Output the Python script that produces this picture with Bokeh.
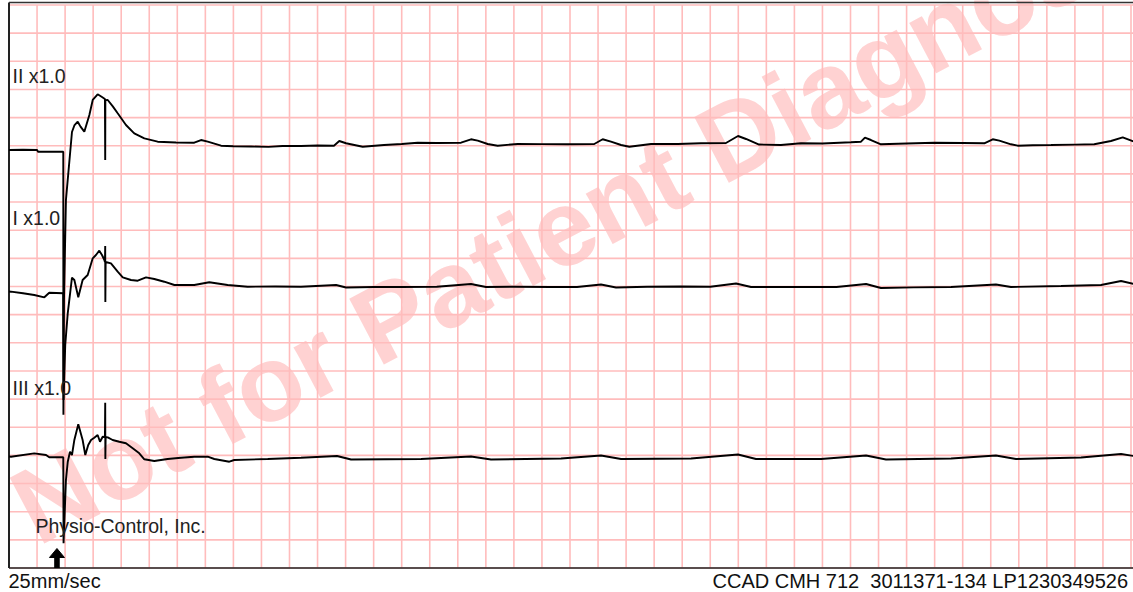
from bokeh.plotting import figure
from bokeh.models import Range1d
from bokeh.core.properties import value
from bokeh.embed import file_html
from bokeh.resources import INLINE

# ---------------- data (time in s, amplitude in mV relative to lead baseline) ----------------
lead_names = ["II x1.0", "I x1.0", "III x1.0"]
lead_offsets = [7.5, 5.0, 2.0]

lead_II_t = [0.0, 0.10, 0.20, 0.207, 0.30, 0.387, 0.388, 0.392, 0.406, 0.449, 0.466, 0.490, 0.510,
             0.537, 0.573, 0.597, 0.632, 0.663, 0.684, 0.686, 0.687, 0.704, 0.740, 0.775, 0.834,
             0.893, 0.965, 1.060, 1.191, 1.321, 1.369, 1.417, 1.512, 1.60, 1.726, 1.85, 1.95,
             2.082, 2.20, 2.317, 2.355, 2.403, 2.522, 2.674, 2.80, 2.914, 3.05, 3.223, 3.294,
             3.342, 3.413, 3.484, 3.627, 3.80, 3.984, 4.173, 4.233, 4.292, 4.364, 4.423, 4.578,
             4.768, 4.934, 5.112, 5.198, 5.255, 5.348, 5.504, 5.647, 5.80, 6.003, 6.075, 6.103,
             6.146, 6.217, 6.40, 6.598, 6.80, 6.954, 7.014, 7.061, 7.144, 7.192, 7.30, 7.430,
             7.60, 7.738, 7.857, 7.941, 8.021]
lead_II_mv = [-0.075, -0.072, -0.075, -0.106, -0.104, -0.106, -4.78, -2.74, -0.96, 0.244, 0.36,
              0.427, 0.34, 0.25, 0.546, 0.813, 0.914, 0.866, 0.83, -0.253, 0.81, 0.813, 0.70,
              0.576, 0.369, 0.221, 0.132, 0.072, 0.058, 0.054, 0.102, 0.072, 0.001, -0.01, -0.013,
              -0.02, -0.005, -0.004, 0.005, 0.001, 0.084, 0.044, -0.017, 0.013, 0.03, 0.054, 0.05,
              0.054, 0.115, 0.09, 0.031, 0.001, 0.031, 0.028, 0.026, 0.031, 0.115, 0.072, 0.013,
              -0.017, 0.031, 0.031, 0.044, 0.049, 0.173, 0.12, 0.022, 0.013, 0.044, 0.04, 0.061,
              0.072, 0.143, 0.102, 0.026, 0.04, 0.054, 0.05, 0.044, 0.115, 0.09, 0.026, 0.001,
              0.01, 0.013, 0.02, 0.026, 0.084, 0.150, 0.072]

lead_I_t = [0.0, 0.014, 0.10, 0.180, 0.252, 0.287, 0.387, 0.389, 0.401, 0.419, 0.449, 0.466, 0.494,
            0.525, 0.561, 0.597, 0.620, 0.644, 0.663, 0.680, 0.684, 0.686, 0.687, 0.689, 0.727,
            0.775, 0.811, 0.870, 0.918, 0.977, 1.036, 1.107, 1.179, 1.321, 1.428, 1.559, 1.702,
            1.90, 2.082, 2.332, 2.403, 2.60, 2.795, 3.05, 3.294, 3.401, 3.60, 3.865, 4.05, 4.221,
            4.328, 4.55, 4.791, 5.00, 5.184, 5.291, 5.647, 5.90, 6.111, 6.217, 6.45, 6.717, 7.037,
            7.144, 7.501, 7.786, 7.929, 8.021]
lead_I_mv = [-0.09, -0.092, -0.12, -0.151, -0.192, -0.110, -0.121, -2.016, -1.039, -0.471, 0.156,
             0.115, -0.192, 0.115, 0.204, 0.501, 0.560, 0.636, 0.560, 0.471, 0.435, 0.719, -0.275,
             0.435, 0.412, 0.263, 0.163, 0.115, 0.103, 0.163, 0.133, 0.085, 0.027, 0.027, 0.075,
             0.027, -0.004, 0.0, -0.004, 0.027, -0.018, -0.01, -0.009, -0.005, 0.044, -0.009,
             -0.004, -0.009, -0.01, 0.036, -0.018, -0.005, 0.0, -0.005, 0.053, -0.009, -0.009,
             -0.01, 0.044, -0.027, -0.015, -0.009, 0.036, -0.009, 0.009, 0.027, 0.098, 0.044]

lead_III_t = [0.0, 0.014, 0.180, 0.264, 0.287, 0.387, 0.389, 0.406, 0.419, 0.435, 0.449, 0.466,
              0.494, 0.525, 0.544, 0.565, 0.585, 0.608, 0.632, 0.649, 0.668, 0.684, 0.686, 0.687,
              0.689, 0.704, 0.739, 0.786, 0.834, 0.882, 0.929, 0.965, 1.036, 1.131, 1.226, 1.321,
              1.417, 1.464, 1.571, 1.606, 1.845, 2.082, 2.339, 2.439, 2.938, 3.294, 3.437, 3.936,
              4.221, 4.364, 4.863, 5.198, 5.326, 5.790, 6.111, 6.253, 6.717, 7.037, 7.180, 7.644,
              7.929, 8.021]
lead_III_mv = [-0.02, -0.023, 0.037, 0.007, -0.034, -0.034, -1.561, -0.437, -0.112, 0.066, 0.007,
               0.274, 0.552, 0.274, 0.007, 0.185, 0.274, 0.314, 0.362, 0.243, 0.332, 0.327, 0.936,
               -0.064, 0.327, 0.321, 0.274, 0.243, 0.215, 0.126, 0.037, -0.069, -0.099, -0.064,
               -0.041, -0.023, -0.023, -0.064, -0.112, -0.082, -0.064, -0.041, -0.011, -0.073,
               -0.064, -0.02, -0.073, -0.055, -0.002, -0.064, -0.055, 0.016, -0.064, -0.064,
               -0.002, -0.073, -0.055, -0.002, -0.064, -0.037, 0.025, -0.011]

event_marker_t = [0.342]

header_left = "25mm/sec"
header_right = "CCAD CMH 712\u00a0 3011371-134 LP1230349526"
maker_text = "Physio-Control, Inc."
watermark_text = "Not for Patient Diagnosis"

# ---------------- figure ----------------
PX_T = 0.2 / 28.05   # seconds per pixel
PX_V = 0.5 / 28.15   # mV per pixel

W, H = 1133, 592
X0, Y0 = 8.5, 567.5   # screen position of t=0 / 0 mV (frame corner)

def sx(px):
    return (px - X0) * PX_T

def sy(py):
    return (Y0 - py) * PX_V

p = figure(width=W, height=H,
           x_range=Range1d(sx(0), sx(W)),
           y_range=Range1d(sy(H), sy(0)),
           output_backend="svg", toolbar_location=None,
           x_axis_location=None, y_axis_location=None, min_border=0)
p.grid.visible = False
p.outline_line_color = None
p.background_fill_color = "white"
p.border_fill_color = "white"

FONT = value("Liberation Sans")

# watermark
p.text(x=[sx(20)], y=[sy(513)], text=[watermark_text], angle=0.485,
       text_font=FONT, text_font_style="bold", text_font_size="108px",
       text_color="#ffd2d2", text_baseline="alphabetic", text_align="left")

# grid of big squares (0.2 s x 0.5 mV)
grid_t = [0.2 * k for k in range(41)]
grid_v = [0.5 * k for k in range(21)]
p.segment(x0=grid_t, y0=[0] * len(grid_t), x1=grid_t, y1=[10] * len(grid_t),
          line_color="#ffbcbc", line_width=1.6)
p.segment(x0=[0] * len(grid_v), y0=grid_v, x1=[sx(W + 5)] * len(grid_v), y1=grid_v,
          line_color="#ffbcbc", line_width=1.6)

# frame (left, bottom, top)
top_v = sy(2)
p.segment(x0=[0], y0=[0], x1=[0], y1=[top_v], line_color="#222222", line_width=2)
p.segment(x0=[0], y0=[0], x1=[sx(W + 5)], y1=[0], line_color="#222222", line_width=1.6)
p.segment(x0=[0], y0=[top_v], x1=[sx(W + 5)], y1=[top_v], line_color="#333333", line_width=1.6)

# traces
traces = [(lead_II_t, lead_II_mv), (lead_I_t, lead_I_mv), (lead_III_t, lead_III_mv)]
for (tt, vv), off in zip(traces, lead_offsets):
    p.line(tt, [off + v for v in vv], line_color="black", line_width=1.9)

# lead labels (anchor = visual centre of the caps)
p.text(x=[sx(12)] * 3, y=[sy(75), sy(217.5), sy(387.5)], text=lead_names,
       text_font=FONT, text_font_size="19.5px", text_color="#222222",
       text_baseline="alphabetic", text_align="left")

# maker
p.text(x=[sx(35)], y=[sy(525.5)], text=[maker_text],
       text_font=FONT, text_font_size="19.5px", text_color="#222222",
       text_baseline="alphabetic", text_align="left")

# bottom texts
p.text(x=[sx(8)], y=[sy(580.3)], text=[header_left],
       text_font=FONT, text_font_size="20px", text_color="#111111",
       text_baseline="alphabetic", text_align="left")
p.text(x=[sx(1127.5)], y=[sy(580.3)], text=[header_right],
       text_font=FONT, text_font_size="20px", text_color="#111111",
       text_baseline="alphabetic", text_align="right")

# event arrow
for t0 in event_marker_t:
    p.patch([t0 - 7.5 * PX_T, t0 + 7.5 * PX_T, t0], [10.5 * PX_V, 10.5 * PX_V, 19.5 * PX_V],
            fill_color="black", line_color="black", line_width=1)
    p.quad(left=[t0 - 2.8 * PX_T], right=[t0 + 2.8 * PX_T], bottom=[0], top=[10.5 * PX_V],
           fill_color="black", line_color=None)

open("out.html", "w").write(file_html(p, INLINE))
